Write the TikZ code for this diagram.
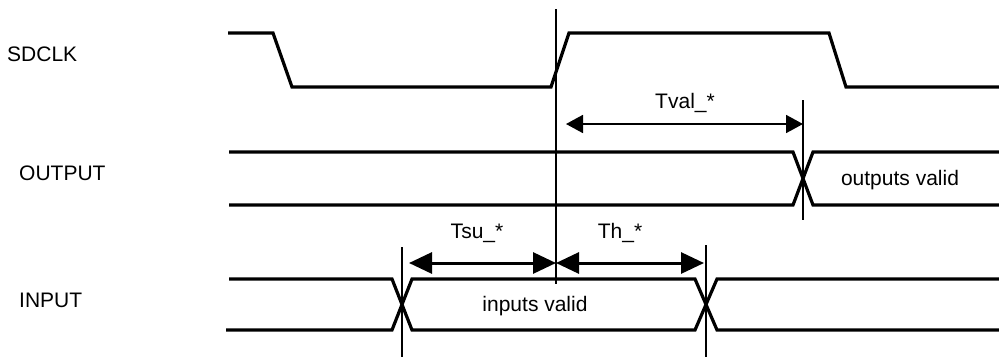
\documentclass[tikz,border=0pt]{standalone}
\usepackage{fontspec}
\setmainfont{Liberation Sans}
\usetikzlibrary{arrows.meta}
\begin{document}
\begin{tikzpicture}[x=1pt,y=-1pt,
  sig/.style={line width=3.2pt, line join=miter},
  guide/.style={line width=1.1pt},
  bigarrow/.style={line width=3pt, {Triangle[length=23pt,width=21pt]}-{Triangle[length=23pt,width=21pt]}},
  smallarrow/.style={line width=1.8pt, {Triangle[length=17pt,width=18pt]}-{Triangle[length=17pt,width=18pt]}},
  lbl/.style={inner sep=0pt, font=\fontsize{21}{25}\selectfont}]
\useasboundingbox (0,0) rectangle (999,360);

% signal names
\node[lbl, anchor=west] (nclk) at (7,54) {SDCLK};
\node[lbl, anchor=west] (nout) at (19,173) {OUTPUT};
\node[lbl, anchor=west] (nin) at (19,300) {INPUT};

% SDCLK waveform
\draw[sig] (228,33) -- (273,33) -- (292,87) -- (551,87) -- (569,33) -- (829,33) -- (846,87) -- (999,87);

% OUTPUT waveform
\draw[sig] (229,152) -- (793,152) -- (813,205) -- (999,205);
\draw[sig] (229,205) -- (793,205) -- (813,152) -- (999,152);

% INPUT waveform
\draw[sig] (229,279) -- (392,279) -- (412,330) -- (695,330) -- (717,279) -- (999,279);
\draw[sig] (226,330) -- (392,330) -- (412,279) -- (695,279) -- (717,330) -- (999,330);

% guide lines
\coordinate (g1t) at (556,9);   \coordinate (g1b) at (556,284);
\coordinate (g2t) at (803,100); \coordinate (g2b) at (803,220);
\coordinate (g3t) at (402,247); \coordinate (g3b) at (402,357);
\coordinate (g4t) at (706,245); \coordinate (g4b) at (706,357);
\draw[guide] (g1t) -- (g1b);
\draw[guide] (g2t) -- (g2b);
\draw[guide] (g3t) -- (g3b);
\draw[guide] (g4t) -- (g4b);

% timing arrows
\coordinate (tvalA) at (566,124); \coordinate (tvalB) at (803,124);
\coordinate (tsuA) at (409,263);  \coordinate (tsuB) at (556,263);
\coordinate (thA) at (556,263);   \coordinate (thB) at (704,263);
\draw[smallarrow] (tvalA) -- (tvalB);
\draw[bigarrow] (tsuA) -- (tsuB);
\draw[bigarrow] (thA) -- (thB);

% labels
\node[lbl] (ltval) at (685,103) {Tval\_*};
\node[lbl] (ltsu) at (477,233) {Tsu\_*};
\node[lbl] (lth) at (620,233) {Th\_*};
\node[lbl] (lin) at (535,306) {inputs valid};
\node[lbl] (lout) at (900,180) {outputs valid};
\end{tikzpicture}
\end{document}
